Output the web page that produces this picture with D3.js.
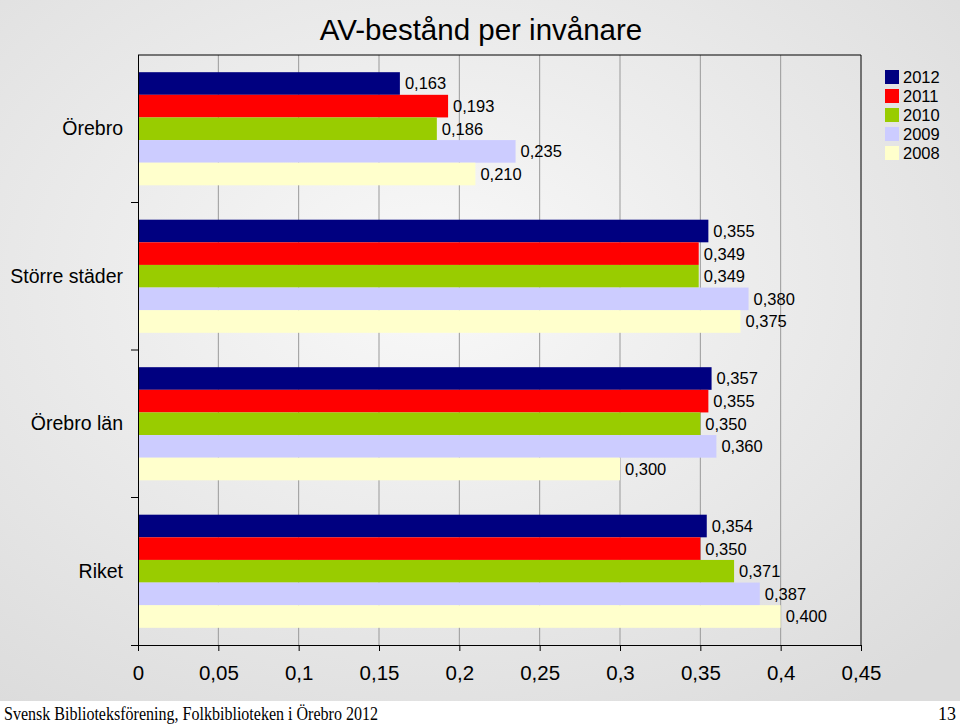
<!DOCTYPE html>
<html><head><meta charset="utf-8">
<script src="https://cdn.jsdelivr.net/npm/d3@7"></script>
<style>body{margin:0;background:#fff}svg{display:block}</style>
</head><body><svg id="c" width="960" height="725"></svg>
<script>
const categories = ["Örebro", "Större städer", "Örebro län", "Riket"];
const years = ["2012", "2011", "2010", "2009", "2008"];
const colors = ["#000080", "#ff0000", "#99cc00", "#ccccff", "#ffffcc"];
const v2012 = [0.163, 0.355, 0.357, 0.354];
const v2011 = [0.193, 0.349, 0.355, 0.350];
const v2010 = [0.186, 0.349, 0.350, 0.371];
const v2009 = [0.235, 0.380, 0.360, 0.387];
const v2008 = [0.210, 0.375, 0.300, 0.400];
const xTicks = [0, 0.05, 0.1, 0.15, 0.2, 0.25, 0.3, 0.35, 0.4, 0.45];
const title = "AV-bestånd per invånare";
const footer = "Svensk Biblioteksförening, Folkbiblioteken i Örebro 2012";
const pageNo = "13";

const series = [v2012, v2011, v2010, v2009, v2008];
const svg = d3.select("#c");
const defs = svg.append("defs");
const rg = defs.append("radialGradient").attr("id", "bg").attr("cx", "45%").attr("cy", "40%").attr("r", "75%");
rg.append("stop").attr("offset", "0%").attr("stop-color", "#f9f9f9");
rg.append("stop").attr("offset", "100%").attr("stop-color", "#dcdcdc");
svg.append("rect").attr("width", 960).attr("height", 701).attr("fill", "url(#bg)");

const L = 138, R = 861, T = 55, B = 645;
const x = d3.scaleLinear().domain([0, 0.45]).range([L, R]);
const y = d3.scaleBand().domain(categories).range([T, B]).padding(0);
const yi = d3.scaleBand().domain(years).range([0, y.bandwidth()]).paddingInner(0).paddingOuter(0.76);
const fmt = v => d3.format(".3f")(v).replace(".", ",");
const tickFmt = v => String(+v.toFixed(2)).replace(".", ",");

// gridlines
svg.append("g").selectAll("line").data(xTicks.slice(1, -1)).join("line")
  .attr("x1", d => x(d)).attr("x2", d => x(d)).attr("y1", T).attr("y2", B)
  .attr("stroke", "#999").attr("stroke-width", 1);
// frame top & right
svg.append("line").attr("x1", L).attr("x2", R).attr("y1", T).attr("y2", T).attr("stroke", "#000");
svg.append("line").attr("x1", R).attr("x2", R).attr("y1", T).attr("y2", B).attr("stroke", "#000");

// bars
const g = svg.append("g");
categories.forEach((c, ci) => {
  years.forEach((yr, si) => {
    const v = series[si][ci];
    g.append("rect").attr("x", x(0)).attr("y", y(c) + yi(yr))
      .attr("width", x(v) - x(0)).attr("height", yi.bandwidth()).attr("fill", colors[si]);
    g.append("text").attr("x", x(v) + 5).attr("y", y(c) + yi(yr) + yi.bandwidth() / 2)
      .attr("dy", "0.36em").attr("font-family", "Liberation Sans, Arial, sans-serif")
      .attr("font-size", 16.5).attr("fill", "#000").text(fmt(v));
  });
});

// x axis
const xa = svg.append("g").attr("transform", `translate(0,${B})`)
  .call(d3.axisBottom(x).tickValues(xTicks).tickSize(6).tickPadding(14).tickFormat(tickFmt));
xa.select(".domain").attr("d", `M${L - 7},0.5H${R}`).attr("stroke", "#000");
xa.selectAll("text").attr("font-family", "Liberation Sans, Arial, sans-serif").attr("font-size", 20.5).attr("fill", "#000");
xa.selectAll(".tick line").attr("stroke", "#000");

// y axis
const ya = svg.append("g").attr("transform", `translate(${L},0)`)
  .call(d3.axisLeft(y).tickSize(0).tickPadding(15));
ya.select(".domain").attr("d", `M0.5,${T}V${B}`).attr("stroke", "#000");
ya.selectAll("text").attr("font-family", "Liberation Sans, Arial, sans-serif").attr("font-size", 19.5).attr("fill", "#000");
svg.append("g").selectAll("line").data(categories.slice(1)).join("line")
  .attr("x1", L - 7).attr("x2", L).attr("y1", d => y(d)).attr("y2", d => y(d)).attr("stroke", "#000");

// title
svg.append("text").attr("x", 481).attr("y", 40).attr("text-anchor", "middle")
  .attr("font-family", "Liberation Sans, Arial, sans-serif").attr("font-size", 29.5).attr("fill", "#000").text(title);

// legend
const lg = svg.append("g");
years.forEach((yr, i) => {
  const yy = 77 + i * 19;
  lg.append("rect").attr("x", 885).attr("y", yy - 7).attr("width", 14).attr("height", 14).attr("fill", colors[i]);
  lg.append("text").attr("x", 903).attr("y", yy).attr("dy", "0.36em")
    .attr("font-family", "Liberation Sans, Arial, sans-serif").attr("font-size", 16.5).attr("fill", "#000").text(yr);
});

// footer
svg.append("text").attr("x", 4).attr("y", 720).attr("font-family", "Liberation Serif, Times New Roman, serif")
  .attr("font-size", 18).attr("textLength", 374).attr("lengthAdjust", "spacingAndGlyphs").attr("fill", "#000").text(footer);
svg.append("text").attr("x", 956).attr("y", 720).attr("text-anchor", "end").attr("font-family", "Liberation Serif, Times New Roman, serif")
  .attr("font-size", 18).attr("fill", "#000").text(pageNo);
</script></body></html>
